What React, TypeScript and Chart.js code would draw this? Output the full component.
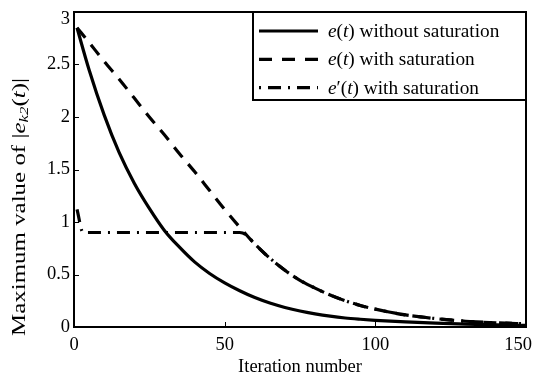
import React, { useEffect, useRef } from 'react';
import { Chart, registerables } from 'chart.js';

Chart.register(...registerables);

// Series
const solidIter = [1, 5, 10, 15, 20, 25, 30, 35, 40, 45, 50, 55, 60, 65, 70, 75, 80, 85, 90, 95, 100, 110, 120, 130, 140, 150];
const solidVal = [2.85, 2.45, 2.02, 1.66, 1.37, 1.13, 0.92, 0.76, 0.62, 0.51, 0.42, 0.345, 0.28, 0.228, 0.186, 0.152, 0.125, 0.103, 0.086, 0.074, 0.064, 0.048, 0.036, 0.027, 0.02, 0.015];

const dashIter = [1, 5, 10, 15, 20, 25, 30, 35, 40, 45, 50, 55, 60, 65, 70, 75, 80, 85, 90, 95, 100, 105, 110, 115, 120, 130, 140, 150];
const dashVal = [2.85, 2.71, 2.53, 2.36, 2.18, 2.00, 1.83, 1.65, 1.48, 1.30, 1.12, 0.95, 0.79, 0.655, 0.54, 0.445, 0.37, 0.305, 0.25, 0.205, 0.17, 0.14, 0.115, 0.097, 0.08, 0.055, 0.04, 0.03];

const dotIter = [1, 3, 55, 57, 60, 65, 70, 75, 80, 85, 90, 95, 100, 105, 110, 115, 120, 130, 140, 150];
const dotVal = [1.12, 0.9, 0.9, 0.88, 0.79, 0.655, 0.54, 0.445, 0.37, 0.305, 0.25, 0.205, 0.17, 0.14, 0.115, 0.097, 0.08, 0.055, 0.04, 0.03];

const xTicks = [0, 50, 100, 150];
const yTicks = [0, 0.5, 1, 1.5, 2, 2.5, 3];

const xTitle = 'Iteration number';

type Part = { t: string; italic?: boolean; sub?: boolean };

const legendItems: { parts: Part[]; dash: number[]; offset: number }[] = [
  { parts: [{ t: 'e', italic: true }, { t: '(' }, { t: 't', italic: true }, { t: ') without saturation' }], dash: [], offset: 0 },
  { parts: [{ t: 'e', italic: true }, { t: '(' }, { t: 't', italic: true }, { t: ') with saturation' }], dash: [13, 10], offset: 0 },
  { parts: [{ t: 'e', italic: true }, { t: '\u2032(' }, { t: 't', italic: true }, { t: ') with saturation' }], dash: [13, 7, 2, 7], offset: 20 },
];

const yTitleParts: Part[] = [
  { t: 'Maximum value of |' },
  { t: 'e', italic: true },
  { t: 'k2', italic: true, sub: true },
  { t: '(' },
  { t: 't', italic: true },
  { t: ')|' },
];

const FAMILY = '"Liberation Serif", "Times New Roman", serif';
const FS = 18.5;

function fontFor(p: Part, size: number) {
  const s = p.sub ? size * 0.68 : size;
  return `${p.italic ? 'italic ' : ''}${s}px ${FAMILY}`;
}

function measureParts(ctx: CanvasRenderingContext2D, parts: Part[], size: number) {
  let w = 0;
  for (const p of parts) {
    ctx.font = fontFor(p, size);
    w += ctx.measureText(p.t).width;
  }
  return w;
}

function drawParts(ctx: CanvasRenderingContext2D, parts: Part[], x: number, y: number, size: number) {
  let cx = x;
  for (const p of parts) {
    ctx.font = fontFor(p, size);
    ctx.fillText(p.t, cx, p.sub ? y + 5 : y);
    cx += ctx.measureText(p.t).width;
  }
}

const decorPlugin = {
  id: 'decor',
  afterDraw(chart: any) {
    const ctx: CanvasRenderingContext2D = chart.ctx;
    const { left, right, top, bottom } = chart.chartArea;
    const xs = chart.scales.x;
    const ys = chart.scales.y;
    const cw = chart.width;
    ctx.save();
    ctx.strokeStyle = '#000';
    ctx.fillStyle = '#000';
    // frame top and right
    ctx.lineWidth = 2;
    ctx.setLineDash([]);
    ctx.beginPath();
    ctx.moveTo(left, top);
    ctx.lineTo(right, top);
    ctx.lineTo(right, bottom);
    ctx.stroke();
    // inward ticks
    ctx.lineWidth = 1;
    for (const v of xTicks) {
      const px = Math.round(xs.getPixelForValue(v)) + 0.5;
      ctx.beginPath();
      ctx.moveTo(px, bottom);
      ctx.lineTo(px, bottom - 5);
      ctx.stroke();
    }
    for (const v of yTicks) {
      const py = Math.round(ys.getPixelForValue(v)) + 0.5;
      ctx.beginPath();
      ctx.moveTo(left, py);
      ctx.lineTo(left + 5, py);
      ctx.stroke();
    }
    // tick labels (kept inside the figure like the reference)
    ctx.font = `${FS}px ${FAMILY}`;
    ctx.textBaseline = 'middle';
    ctx.textAlign = 'center';
    for (const v of xTicks) {
      const s = String(v);
      const w = ctx.measureText(s).width;
      const px = Math.min(xs.getPixelForValue(v), cw - w / 2 - 1);
      ctx.fillText(s, px, bottom + 18);
    }
    ctx.textAlign = 'right';
    for (const v of yTicks) {
      const py = Math.max(ys.getPixelForValue(v), top + 7);
      ctx.fillText(String(v), left - 4, py);
    }
    // legend
    const boxW = 273;
    const boxH = 88;
    const bx = right - boxW;
    const by = top;
    ctx.fillStyle = '#fff';
    ctx.fillRect(bx, by, boxW, boxH);
    ctx.fillStyle = '#000';
    ctx.lineWidth = 2;
    ctx.strokeRect(bx, by, boxW, boxH);
    ctx.textBaseline = 'middle';
    ctx.textAlign = 'left';
    legendItems.forEach((it, i) => {
      const ly = by + 19 + i * 28.3;
      ctx.save();
      ctx.lineWidth = 3.2;
      ctx.lineCap = 'butt';
      ctx.setLineDash(it.dash);
      ctx.lineDashOffset = it.offset;
      ctx.beginPath();
      ctx.moveTo(bx + 6, ly);
      ctx.lineTo(bx + 65, ly);
      ctx.stroke();
      ctx.restore();
      drawParts(ctx, it.parts, bx + 75, ly + 1, 19.3);
    });
    // y title (stretched along its length like the reference)
    ctx.save();
    ctx.translate(20, 207);
    ctx.rotate(-Math.PI / 2);
    const w = measureParts(ctx, yTitleParts, 18);
    const stretch = 258 / w;
    ctx.scale(stretch, 1);
    ctx.textBaseline = 'middle';
    drawParts(ctx, yTitleParts, -w / 2, 0, 18);
    ctx.restore();
    ctx.restore();
  },
};

export default function App() {
  const ref = useRef<HTMLCanvasElement>(null);
  useEffect(() => {
    if (!ref.current) return;
    const mk = (xs: number[], ys: number[]) => xs.map((x, i) => ({ x, y: ys[i] }));
    const chart = new Chart(ref.current, {
      type: 'line',
      data: {
        datasets: [
          { label: 'e(t) without saturation', data: mk(solidIter, solidVal), borderColor: '#000', borderWidth: 3.2, pointRadius: 0, cubicInterpolationMode: 'monotone', fill: false },
          { label: 'e(t) with saturation', data: mk(dashIter, dashVal), borderColor: '#000', borderWidth: 3.2, borderDash: [13, 9], pointRadius: 0, cubicInterpolationMode: 'monotone', fill: false },
          { label: "e'(t) with saturation", data: mk(dotIter, dotVal), borderColor: '#000', borderWidth: 3.2, borderDash: [13, 7, 2, 7], pointRadius: 0, cubicInterpolationMode: 'monotone', fill: false },
        ],
      },
      options: {
        animation: false,
        responsive: true,
        maintainAspectRatio: false,
        layout: { padding: { top: 12, right: 7, left: 0, bottom: 0 } },
        plugins: { legend: { display: false }, tooltip: { enabled: false } },
        scales: {
          x: {
            type: 'linear',
            min: 0,
            max: 150,
            afterFit: (s: any) => { s.height = 53; s.paddingLeft = 0; s.paddingRight = 0; },
            afterBuildTicks: (s: any) => { s.ticks = xTicks.map((v) => ({ value: v })); },
            ticks: { display: false },
            grid: { display: false, drawTicks: false },
            border: { display: true, color: '#000', width: 2 },
            title: { display: true, text: xTitle, color: '#000', font: { family: FAMILY, size: FS }, padding: { top: 0, bottom: 2 } },
          },
          y: {
            min: 0,
            max: 3,
            afterFit: (s: any) => { s.width = 74; s.paddingTop = 0; s.paddingBottom = 0; },
            afterBuildTicks: (s: any) => { s.ticks = yTicks.map((v) => ({ value: v })); },
            ticks: { display: false },
            grid: { display: false, drawTicks: false },
            border: { display: true, color: '#000', width: 2 },
          },
        },
      },
      plugins: [decorPlugin],
    } as any);
    return () => chart.destroy();
  }, []);
  return (
    <div style={{ position: 'fixed', left: 0, top: 0, width: 533, height: 380, background: '#fff' }}>
      <canvas ref={ref} />
    </div>
  );
}
